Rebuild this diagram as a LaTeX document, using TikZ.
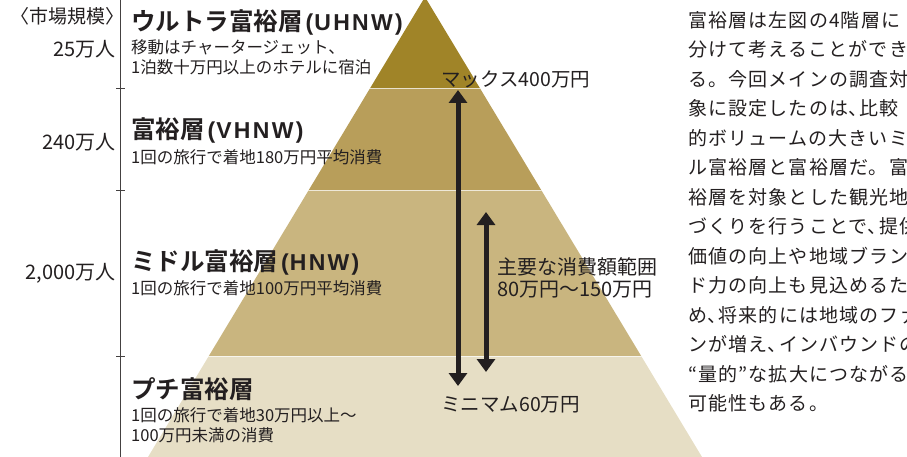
\documentclass[tikz,border=0pt]{standalone}
\usepackage{fontspec}
\setmainfont{Noto Sans CJK JP}[BoldFont={Noto Sans CJK JP Bold}]
\newfontfamily\parafont{Noto Sans CJK JP}[LetterSpace=6]
\newfontfamily\latb{Liberation Sans}[LetterSpace=10]
\usetikzlibrary{arrows.meta}
\definecolor{bandA}{HTML}{A08428}
\definecolor{bandB}{HTML}{B89E5A}
\definecolor{bandC}{HTML}{C9B57F}
\definecolor{bandD}{HTML}{E6DEC5}
\definecolor{ink}{HTML}{231F20}
\tikzset{
  title/.style={anchor=west,inner sep=0pt,font=\bfseries\fontsize{24.5}{24.5}\selectfont,text=ink},
  sub/.style={anchor=west,inner sep=0pt,font=\fontsize{16.5}{20}\selectfont,text=ink,align=left},
  sizelab/.style={anchor=east,inner sep=0pt,font=\fontsize{20}{20}\selectfont,text=ink},
  para/.style={anchor=west,inner sep=0pt,font=\parafont\fontsize{19}{19}\selectfont,text=ink},
  arrlab/.style={anchor=west,inner sep=0pt,font=\fontsize{19.5}{21.5}\selectfont,text=ink,align=left},
  bigarrow/.style={line width=5pt,draw=ink,{Triangle[width=18pt,length=13pt]}-{Triangle[width=18pt,length=13pt]}},
  axis/.style={draw=ink!85,line width=0.8pt},
}
\newcommand{\abbr}[1]{{\latb\bfseries\fontsize{23}{23}\selectfont\hspace{3pt}(\hspace{1pt}#1)}}
\newcommand{\tk}{\makebox[0.6em][l]{、}}
\begin{document}
\begin{tikzpicture}[x=1pt,y=-1pt]
\useasboundingbox (0,0) rectangle (907,457);
\clip (0,0) rectangle (907,457);
% pyramid
\begin{scope}
  \clip (425,-3) -- (702,457) -- (148,457) -- cycle;
  \fill[bandA] (100,-5) rectangle (750,88);
  \fill[bandB] (100,88) rectangle (750,190);
  \fill[bandC] (100,190) rectangle (750,356);
  \fill[bandD] (100,356) rectangle (750,460);
  \draw[white,line width=0.6pt,opacity=0.7] (100,88) -- (750,88) (100,190) -- (750,190) (100,356) -- (750,356);
\end{scope}
% axis
\draw[axis] (120,0) -- (120,457);
\draw[axis] (116,88) -- (125,88);
\draw[axis] (116,190) -- (125,190);
\draw[axis] (116,356) -- (125,356);
% market size labels
\node[sizelab,font=\fontsize{19}{19}\selectfont] (hdr) at (116,16) {\makebox[0.55em][r]{〈}市場規模\makebox[0.55em][l]{〉}};
\node[sizelab] (s1) at (116,49) {25万人};
\node[sizelab] (s2) at (116,142) {240万人};
\node[sizelab] (s3) at (116,273) {2,000万人};
% tier titles
\node[title] (t1) at (131,22) {ウルトラ富裕層\abbr{UHNW}};
\node[sub] (d1) at (131,57) {移動はチャータージェット、\\1泊数十万円以上のホテルに宿泊};
\node[title] (t2) at (131,130) {富裕層\abbr{VHNW}};
\node[sub] (d2) at (131,157) {1回の旅行で着地180万円平均消費};
\node[title] (t3) at (131,262) {ミドル富裕層\abbr{HNW}};
\node[sub] (d3) at (131,288) {1回の旅行で着地100万円平均消費};
\node[title] (t4) at (131,389) {プチ富裕層};
\node[sub] (d4) at (131,425) {1回の旅行で着地30万円以上～\\100万円未満の消費};
% arrows
\coordinate (maxtop) at (458,90);
\coordinate (minbot) at (458,386);
\coordinate (maintop) at (486,212);
\coordinate (mainbot) at (486,372);
\draw[bigarrow] (maxtop) -- (minbot);
\draw[bigarrow] (maintop) -- (mainbot);
\node[arrlab] (maxlab) at (441,79) {マックス400万円};
\node[arrlab] (minlab) at (441,405) {ミニマム60万円};
\node[arrlab,font=\fontsize{20}{21.5}\selectfont] (mainlab) at (497,278) {主要な消費額範囲\\80万円～150万円};
% paragraph
\node[para] (p1) at (688,20) {富裕層は左図の4階層に};
\node[para] (p2) at (688,49.5) {分けて考えることができ};
\node[para] (p3) at (688,79) {る。今回メインの調査対};
\node[para] (p4) at (688,108.5) {象に設定したのは\tk 比較};
\node[para] (p5) at (688,138) {的ボリュームの大きいミド};
\node[para] (p6) at (688,167.5) {ル富裕層と富裕層だ。富};
\node[para] (p7) at (688,197) {裕層を対象とした観光地};
\node[para] (p8) at (688,226.5) {づくりを行うことで\tk 提供};
\node[para] (p9) at (688,256) {価値の向上や地域ブラン};
\node[para] (p10) at (688,285.5) {ド力の向上も見込めるた};
\node[para] (p11) at (688,315) {め\tk 将来的には地域のファ};
\node[para] (p12) at (688,344.5) {ンが増え\tk インバウンドの};
\node[para] (p13) at (688,374) {“量的”な拡大につながる};
\node[para] (p14) at (688,403.5) {可能性もある。};
\end{tikzpicture}
\end{document}
